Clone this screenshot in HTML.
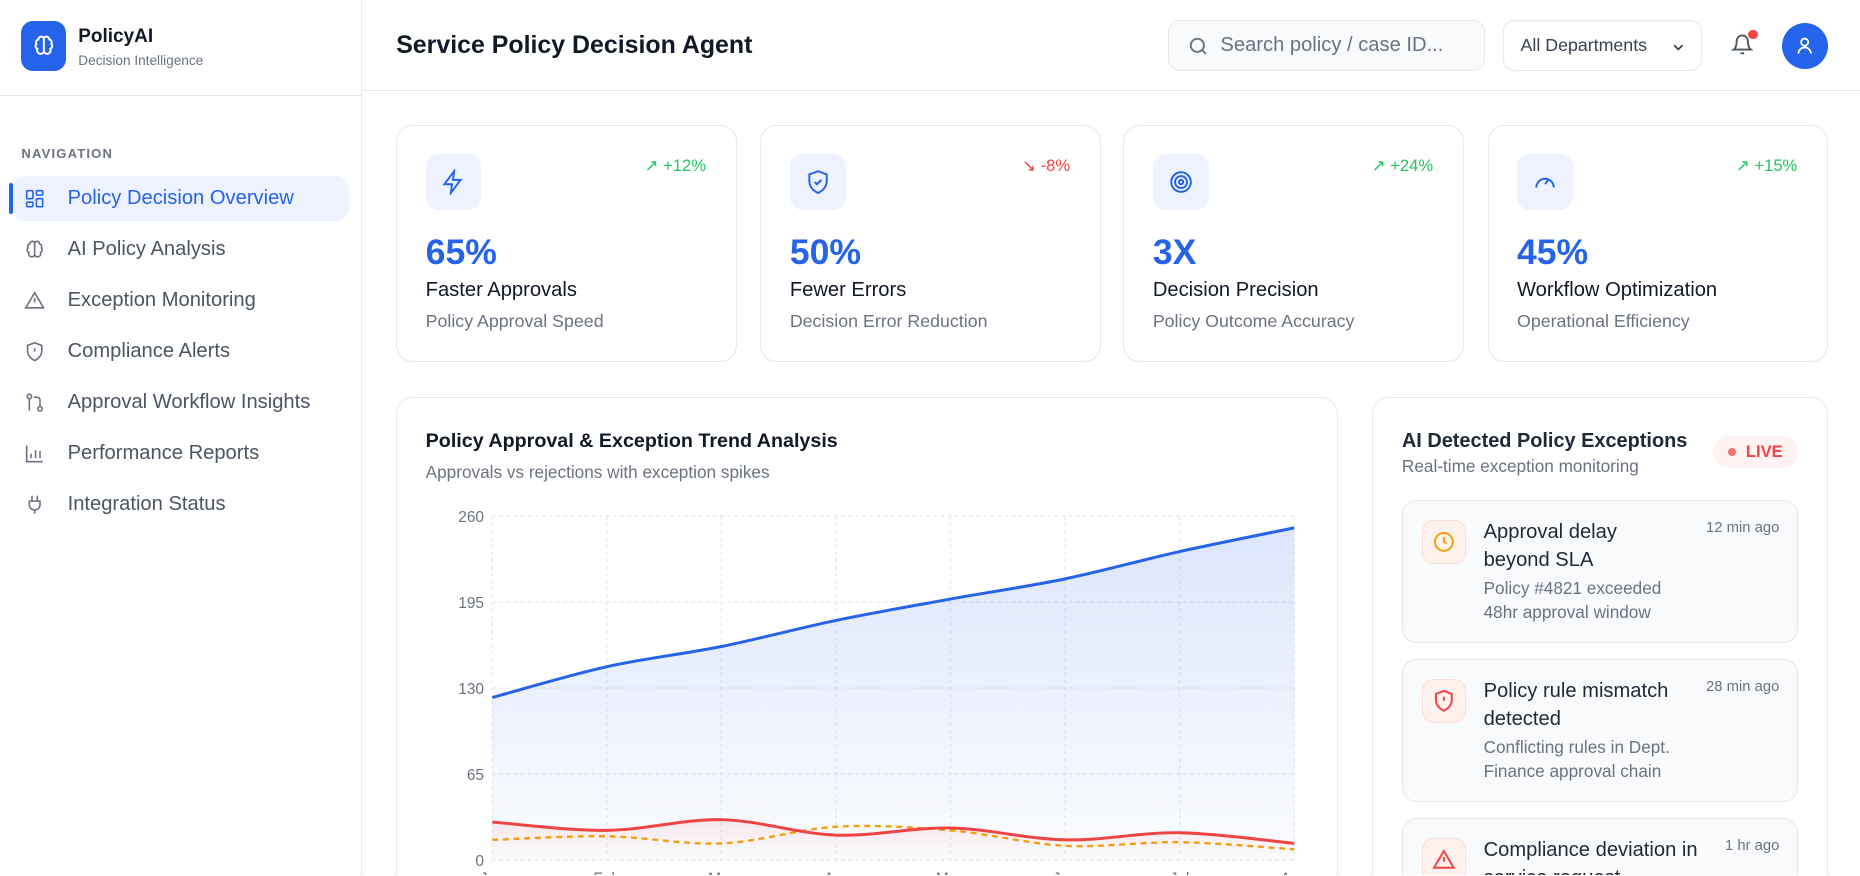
<!DOCTYPE html>
<html><head><meta charset="utf-8"><style>
*{box-sizing:border-box;margin:0;padding:0}
html,body{width:1860px;height:876px;overflow:hidden;background:#fff}
#w{zoom:1.18622;width:1568px;height:738px;position:relative;font-family:"Liberation Sans",sans-serif;color:#111827;overflow:hidden}
.a{position:absolute}
.side{left:0;top:0;width:305px;height:738px;border-right:1px solid #e5e7eb}
.nav{position:absolute;left:20px;font-size:17px;color:#4b5563;display:flex;align-items:center}
.nav svg{width:18px;height:18px;margin-right:19px;stroke:#6b7280;fill:none;stroke-width:1.8}
.card{position:absolute;border:1px solid #e5e7eb;border-radius:14px;background:#fff}
.kpi{top:105px;width:287px;height:200px}
.ib{position:absolute;left:24px;top:24px;width:47px;height:47px;background:#eef2ff;border-radius:11px;display:flex;align-items:center;justify-content:center}
.ib svg{width:22px;height:22px;stroke:#2563eb;fill:none;stroke-width:1.8}
.tr{position:absolute;right:25px;top:26px;font-size:14px}
.val{position:absolute;left:24px;top:90px;font-size:30px;font-weight:bold;color:#2563eb}
.lab{position:absolute;left:24px;top:129px;font-size:17px;color:#111827}
.sub{position:absolute;left:24px;top:156px;font-size:15px;color:#6b7280}
.ex{position:absolute;left:24px;width:334px;height:120px;background:#f8fafc;border:1px solid #e5e7eb;border-radius:12px}
.exi{position:absolute;left:16px;top:16px;width:37px;height:37px;border-radius:10px;background:#fef1ee;border:1px solid #fddcd3;display:flex;align-items:center;justify-content:center}
.exi svg{width:20px;height:20px;fill:none;stroke-width:2}
.ext{position:absolute;left:68px;top:14px;width:160px;font-size:17px;line-height:24px;color:#1f2937}
.exd{position:absolute;left:68px;top:64px;width:178px;font-size:14.5px;line-height:20px;color:#6b7280}
.exm{position:absolute;right:15px;top:16px;font-size:12.5px;color:#6b7280}
</style></head><body><div id="w">
<div class="a side">
 <div class="a" style="left:18px;top:18px;width:38px;height:42px;background:#2563eb;border-radius:10px;display:flex;align-items:center;justify-content:center"><svg width="20" height="20" viewBox="0 0 24 24" fill="none" stroke="#fff" stroke-width="2"><path d="M12 4a3 3 0 0 0-5.5 1.5A3 3 0 0 0 4.5 10a3 3 0 0 0 1 5 3 3 0 0 0 6.5 3zM12 4a3 3 0 0 1 5.5 1.5A3 3 0 0 1 19.5 10a3 3 0 0 1-1 5 3 3 0 0 1-6.5 3zM12 4v16"/></svg></div>
 <div class="a" style="left:66px;top:22px;font-size:16px;font-weight:bold">PolicyAI</div>
 <div class="a" style="left:66px;top:45px;font-size:11.5px;color:#6b7280">Decision Intelligence</div>
 <div class="a" style="left:0;top:80px;width:304px;border-top:1px solid #e5e7eb"></div>
 <div class="a" style="left:18px;top:123px;font-size:11px;color:#6b7280;letter-spacing:1px;font-weight:bold">NAVIGATION</div>
 <div class="a" style="left:10px;top:148px;width:284px;height:38px;background:#eef2ff;border-radius:12px"></div>
 <div class="a" style="left:8px;top:154px;width:3px;height:26px;background:#2563eb;border-radius:2px"></div>
 <div class="nav" style="top:158px;color:#2563eb"><svg viewBox="0 0 24 24" style="stroke:#2563eb"><rect x="3" y="3" width="7" height="9" rx="1"/><rect x="14" y="3" width="7" height="5" rx="1"/><rect x="14" y="12" width="7" height="9" rx="1"/><rect x="3" y="16" width="7" height="5" rx="1"/></svg>Policy Decision Overview</div>
 <div class="nav" style="top:201px"><svg viewBox="0 0 24 24"><path d="M12 4a3 3 0 0 0-5.5 1.5A3 3 0 0 0 4.5 10a3 3 0 0 0 1 5 3 3 0 0 0 6.5 3zM12 4a3 3 0 0 1 5.5 1.5A3 3 0 0 1 19.5 10a3 3 0 0 1-1 5 3 3 0 0 1-6.5 3zM12 4v16"/></svg>AI Policy Analysis</div>
 <div class="nav" style="top:244px"><svg viewBox="0 0 24 24"><path d="M12 3 2 20h20zM12 9v5M12 17h.01"/></svg>Exception Monitoring</div>
 <div class="nav" style="top:287px"><svg viewBox="0 0 24 24"><path d="M12 2 4 5v6c0 5 3.5 9 8 11 4.5-2 8-6 8-11V5zM12 8v4M12 16h.01"/></svg>Compliance Alerts</div>
 <div class="nav" style="top:330px"><svg viewBox="0 0 24 24"><circle cx="6" cy="5" r="2.5"/><circle cx="18" cy="19" r="2.5"/><path d="M6 8v13M18 16V9a3 3 0 0 0-3-3h-4"/></svg>Approval Workflow Insights</div>
 <div class="nav" style="top:373px"><svg viewBox="0 0 24 24"><path d="M3 3v18h18M8 17v-5M13 17V8M18 17v-8"/></svg>Performance Reports</div>
 <div class="nav" style="top:416px"><svg viewBox="0 0 24 24"><path d="M9 2v6M15 2v6M6 8h12v4a6 6 0 0 1-12 0zM12 18v4"/></svg>Integration Status</div>
</div>

<div class="a" style="left:305px;top:76px;width:1263px;border-top:1px solid #e5e7eb"></div>
<div class="a" style="left:334px;top:26px;font-size:21px;font-weight:bold">Service Policy Decision Agent</div>
<div class="a" style="left:985px;top:17px;width:267px;height:43px;background:#f8fafc;border:1px solid #e5e7eb;border-radius:10px"><svg class="a" style="left:15px;top:12px" width="19" height="19" viewBox="0 0 24 24" fill="none" stroke="#6b7280" stroke-width="2"><circle cx="11" cy="11" r="7"/><path d="m20 20-4-4"/></svg><span class="a" style="left:43px;top:11px;font-size:17px;color:#6b7280">Search policy / case ID...</span></div>
<div class="a" style="left:1267px;top:17px;width:168px;height:43px;border:1px solid #e5e7eb;border-radius:10px"><span class="a" style="left:14px;top:12px;font-size:15px;color:#374151">All Departments</span><svg class="a" style="left:140px;top:15px" width="14" height="14" viewBox="0 0 24 24" fill="none" stroke="#374151" stroke-width="2.5"><path d="m6 9 6 6 6-6"/></svg></div>
<svg class="a" style="left:1459px;top:28px" width="19" height="20" viewBox="0 0 24 24" fill="none" stroke="#4b5563" stroke-width="2"><path d="M6 8a6 6 0 0 1 12 0c0 7 3 9 3 9H3s3-2 3-9M10 21h4"/></svg>
<div class="a" style="left:1474px;top:25px;width:8px;height:8px;border-radius:50%;background:#ef4444"></div>
<div class="a" style="left:1502px;top:19px;width:39px;height:39px;border-radius:50%;background:#2563eb;display:flex;align-items:center;justify-content:center"><svg width="18" height="18" viewBox="0 0 24 24" fill="none" stroke="#fff" stroke-width="2"><circle cx="12" cy="8" r="4"/><path d="M5 21a7 7 0 0 1 14 0"/></svg></div>

<div class="card kpi" style="left:334px"><div class="ib"><svg viewBox="0 0 24 24"><path d="M13 2 4 14h7l-1 8 9-12h-7z"/></svg></div><div class="tr" style="color:#22c55e">↗ +12%</div><div class="val">65%</div><div class="lab">Faster Approvals</div><div class="sub">Policy Approval Speed</div></div>
<div class="card kpi" style="left:641px"><div class="ib"><svg viewBox="0 0 24 24"><path d="M12 2 4 5v6c0 5 3.5 9 8 11 4.5-2 8-6 8-11V5z"/><path d="m9 12 2 2 4-4"/></svg></div><div class="tr" style="color:#ef4444">↘ -8%</div><div class="val">50%</div><div class="lab">Fewer Errors</div><div class="sub">Decision Error Reduction</div></div>
<div class="card kpi" style="left:947px"><div class="ib"><svg viewBox="0 0 24 24"><circle cx="12" cy="12" r="9"/><circle cx="12" cy="12" r="5.5"/><circle cx="12" cy="12" r="2"/></svg></div><div class="tr" style="color:#22c55e">↗ +24%</div><div class="val">3X</div><div class="lab">Decision Precision</div><div class="sub">Policy Outcome Accuracy</div></div>
<div class="card kpi" style="left:1254px"><div class="ib"><svg viewBox="0 0 24 24"><path d="M4 17a8 8 0 1 1 16 0M12 14l3-4"/></svg></div><div class="tr" style="color:#22c55e">↗ +15%</div><div class="val">45%</div><div class="lab">Workflow Optimization</div><div class="sub">Operational Efficiency</div></div>

<div class="card" style="left:334px;top:335px;width:794px;height:420px">
 <div class="a" style="left:24px;top:27px;font-size:16.6px;font-weight:bold;color:#111827">Policy Approval &amp; Exception Trend Analysis</div>
 <div class="a" style="left:24px;top:54px;font-size:14.5px;color:#6b7280">Approvals vs rejections with exception spikes</div>
</div>
<svg class="a" id="ch" style="left:0;top:0" width="1568" height="738"></svg>

<div class="card" style="left:1157px;top:335px;width:384px;height:420px">
 <div class="a" style="left:24px;top:27px;font-size:16.8px;font-weight:bold;color:#1f2937">AI Detected Policy Exceptions</div>
 <div class="a" style="left:24px;top:49px;font-size:14.5px;color:#6b7280">Real-time exception monitoring</div>
 <div class="a" style="left:286px;top:32px;width:72px;height:27px;border-radius:14px;background:#fef2f2;font-size:14px;color:#ef4444;font-weight:bold;display:flex;align-items:center;justify-content:center"><span style="width:7px;height:7px;border-radius:50%;background:#f87171;margin-right:8px"></span>LIVE</div>
 <div class="ex" style="top:86px"><div class="exi"><svg viewBox="0 0 24 24" stroke="#f59e0b"><circle cx="12" cy="12" r="9"/><path d="M12 7v5l3 2"/></svg></div><div class="ext">Approval delay beyond SLA</div><div class="exd">Policy #4821 exceeded 48hr approval window</div><div class="exm">12 min ago</div></div>
 <div class="ex" style="top:220px"><div class="exi"><svg viewBox="0 0 24 24" stroke="#ef4444"><path d="M12 2 4 5v6c0 5 3.5 9 8 11 4.5-2 8-6 8-11V5zM12 8v4M12 16h.01"/></svg></div><div class="ext" style="width:180px">Policy rule mismatch detected</div><div class="exd">Conflicting rules in Dept. Finance approval chain</div><div class="exm">28 min ago</div></div>
 <div class="ex" style="top:354px"><div class="exi"><svg viewBox="0 0 24 24" stroke="#ef4444"><path d="M12 3 2 20h20zM12 9v5M12 17h.01"/></svg></div><div class="ext" style="width:200px">Compliance deviation in service request</div><div class="exm">1 hr ago</div></div>
</div>

<script>
var s=document.getElementById('ch'),h='';
var X=[],i;for(i=0;i<8;i++)X.push(415+96.57*i);
h+='<defs><linearGradient id="g" x1="0" y1="0" x2="0" y2="1"><stop offset="0" stop-color="#2563eb" stop-opacity="0.16"/><stop offset="1" stop-color="#2563eb" stop-opacity="0.02"/></linearGradient><linearGradient id="r" x1="0" y1="0" x2="0" y2="1"><stop offset="0" stop-color="#ef4444" stop-opacity="0.1"/><stop offset="1" stop-color="#ef4444" stop-opacity="0"/></linearGradient></defs>';
var yl=['260','195','130','65','0'];
for(i=0;i<5;i++){var y=435+72.5*i;h+='<line x1="415" x2="1091" y1="'+y+'" y2="'+y+'" stroke="#e5e7eb" stroke-dasharray="3 3"/>';h+='<text x="408" y="'+(y+5)+'" text-anchor="end" font-size="13" fill="#6b7280" font-family="Liberation Sans">'+yl[i]+'</text>';}
var M=['Jan','Feb','Mar','Apr','May','Jun','Jul','Aug'];
for(i=0;i<8;i++){h+='<line x1="'+X[i]+'" x2="'+X[i]+'" y1="435" y2="725" stroke="#e5e7eb" stroke-dasharray="3 3"/>';h+='<text x="'+X[i]+'" y="745" text-anchor="middle" font-size="13" fill="#6b7280" font-family="Liberation Sans">'+M[i]+'</text>';}
function P(Y){var d='M'+X[0]+','+Y[0];for(var k=0;k<7;k++){var p0=k?k-1:0,p3=k<6?k+2:7;var c1x=X[k]+(X[k+1]-X[p0])/6,c1y=Y[k]+(Y[k+1]-Y[p0])/6,c2x=X[k+1]-(X[p3]-X[k])/6,c2y=Y[k+1]-(Y[p3]-Y[k])/6;d+=' C'+c1x+','+c1y+' '+c2x+','+c2y+' '+X[k+1]+','+Y[k+1];}return d;}
var B=[588,562,545,523,505,488,465,445],R=[693,700,691,704,698,708,702,711],O=[708,705,711,697,700,713,710,716];
h+='<path d="'+P(B)+' L1091,725 L415,725Z" fill="url(#g)"/>';
h+='<path d="'+P(R)+' L1091,725 L415,725Z" fill="url(#r)"/>';
h+='<path d="'+P(B)+'" fill="none" stroke="#2563eb" stroke-width="2.5"/>';
h+='<path d="'+P(O)+'" fill="none" stroke="#f59e0b" stroke-width="2" stroke-dasharray="5 4"/>';
h+='<path d="'+P(R)+'" fill="none" stroke="#ef4444" stroke-width="2.5"/>';
s.innerHTML=h;
</script>
</div></body></html>
